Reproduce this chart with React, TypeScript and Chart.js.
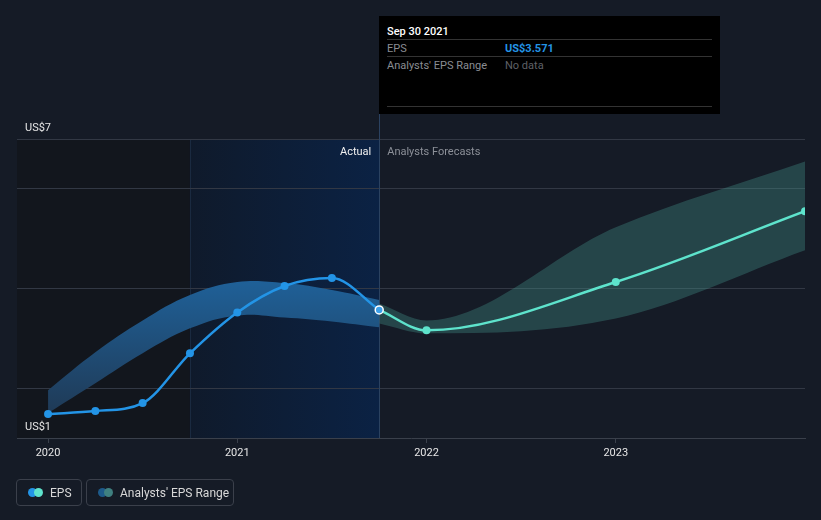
import React, { useEffect, useRef } from "react";
import { Chart, registerables } from "chart.js";
Chart.register(...registerables);

// ---- data ----
const xTickYears = [2020, 2021, 2022, 2023];
const yGridValues = [2, 4, 6, 7];
const yLabelValues = [1, 7];
const xMinValue = 2019.836;
const xMaxValue = 2024;
const yMinValue = 1;
const yMaxValue = 7;
const pastBoundary = 2020.75;
const nowDate = 2021.75;

const actualDates = [2020.0, 2020.25, 2020.5, 2020.75, 2021.0, 2021.25, 2021.5, 2021.75];
const actualEps = [1.48, 1.54, 1.7, 2.7, 3.52, 4.05, 4.21, 3.571];
const rangeActualUpper = [1.96, 2.72, 3.36, 3.87, 4.13, 4.11, 3.97, 3.77];
const rangeActualLower = [1.5, 2.1, 2.7, 3.2, 3.46, 3.42, 3.34, 3.22];

const forecastDates = [2021.75, 2022.0, 2023.0, 2024.0];
const forecastEps = [3.571, 3.16, 4.13, 5.55];
const rangeForecastUpper = [3.7, 3.36, 5.23, 6.55];
const rangeForecastLower = [3.3, 3.1, 3.4, 4.77];

const FONT = "Roboto, 'Noto Sans', sans-serif";
const BLUE = "#2394e6";
const TEAL = "#5ee3cc";

const pts = (xs: number[], ys: number[]) => xs.map((x, i) => ({ x, y: ys[i] }));

const decorPlugin = {
  id: "decor",
  beforeDraw(chart: any) {
    const { ctx, chartArea: a, scales } = chart;
    const x = scales.x;
    const xp = x.getPixelForValue(pastBoundary);
    const xn = x.getPixelForValue(nowDate);
    ctx.save();
    ctx.fillStyle = "#12161d";
    ctx.fillRect(a.left, a.top, xp - a.left, a.bottom - a.top);
    const g = ctx.createLinearGradient(xp, 0, xn, 0);
    g.addColorStop(0, "#0f1a2b");
    g.addColorStop(1, "#0b2244");
    ctx.fillStyle = g;
    ctx.fillRect(xp, a.top, xn - xp, a.bottom - a.top);
    ctx.fillStyle = "rgba(70,100,140,0.22)";
    ctx.fillRect(Math.round(xp), a.top, 1, a.bottom - a.top);
    ctx.restore();
  },
  beforeDatasetsDraw(chart: any) {
    const { ctx, chartArea: a, scales } = chart;
    const xn = Math.round(scales.x.getPixelForValue(nowDate)) + 0.5;
    ctx.save();
    ctx.strokeStyle = "#2b4260";
    ctx.lineWidth = 1;
    ctx.beginPath();
    ctx.moveTo(xn, 114);
    ctx.lineTo(xn, a.bottom);
    ctx.stroke();
    ctx.restore();
  },
  afterDraw(chart: any) {
    const { ctx, chartArea: a, scales } = chart;
    const y = scales.y;
    const xn = scales.x.getPixelForValue(nowDate);
    ctx.save();
    ctx.font = `11px ${FONT}`;
    ctx.textBaseline = "middle";
    ctx.fillStyle = "#e6e6e6";
    ctx.textAlign = "left";
    yLabelValues.forEach((v) => {
      ctx.fillText("US$" + v, a.left + 8, y.getPixelForValue(v) - 11);
    });
    ctx.textAlign = "right";
    ctx.fillStyle = "#f0f0f0";
    ctx.fillText("Actual", xn - 8, a.top + 13);
    ctx.textAlign = "left";
    ctx.fillStyle = "#8c9098";
    ctx.fillText("Analysts Forecasts", xn + 8, a.top + 13);
    ctx.restore();
  },
};

const bandActualFill = (c: any) => {
  const chart = c.chart;
  const a = chart.chartArea;
  if (!a) return "rgba(36,120,195,0.6)";
  const y = chart.scales.y;
  const g = chart.ctx.createLinearGradient(0, y.getPixelForValue(4.2), 0, y.getPixelForValue(1.5));
  g.addColorStop(0, "#1f6199");
  g.addColorStop(1, "#1f3a56");
  return g;
};

export default function App() {
  const ref = useRef<HTMLCanvasElement | null>(null);

  useEffect(() => {
    document.body.style.margin = "0";
    document.body.style.background = "#151b26";
    const canvas = ref.current;
    if (!canvas) return;
    const chart = new Chart(canvas, {
      type: "line",
      data: {
        datasets: [
          {
            label: "EPS",
            data: pts(actualDates, actualEps),
            borderColor: BLUE,
            borderWidth: 2.5,
            pointRadius: 4,
            pointBorderWidth: actualDates.map((_, i) => (i === actualDates.length - 1 ? 1.5 : 0)),
            pointBackgroundColor: actualDates.map((_, i) => (i === actualDates.length - 1 ? "#3d9fe8" : BLUE)),
            pointBorderColor: actualDates.map((_, i) => (i === actualDates.length - 1 ? "#ffffff" : BLUE)),
            cubicInterpolationMode: "monotone",
            fill: false,
            order: 0,
          },
          {
            label: "EPS forecast",
            data: pts(forecastDates, forecastEps),
            borderColor: TEAL,
            borderWidth: 2.5,
            pointRadius: forecastDates.map((_, i) => (i === 0 ? 0 : 4)),
            pointBackgroundColor: TEAL,
            pointBorderWidth: 0,
            cubicInterpolationMode: "monotone",
            fill: false,
            order: 1,
          },
          {
            label: "Range upper",
            data: pts(actualDates, rangeActualUpper),
            borderWidth: 0,
            borderColor: "transparent",
            pointRadius: 0,
            tension: 0.4,
            fill: false,
            order: 2,
          },
          {
            label: "Range lower",
            data: pts(actualDates, rangeActualLower),
            borderWidth: 0,
            borderColor: "transparent",
            backgroundColor: bandActualFill,
            pointRadius: 0,
            tension: 0.4,
            fill: "-1",
            order: 2,
          },
          {
            label: "Forecast upper",
            data: pts(forecastDates, rangeForecastUpper),
            borderWidth: 0,
            borderColor: "transparent",
            pointRadius: 0,
            cubicInterpolationMode: "monotone",
            fill: false,
            order: 3,
          },
          {
            label: "Forecast lower",
            data: pts(forecastDates, rangeForecastLower),
            borderWidth: 0,
            borderColor: "transparent",
            backgroundColor: "rgba(70,150,140,0.35)",
            pointRadius: 0,
            cubicInterpolationMode: "monotone",
            fill: "-1",
            order: 3,
          },
        ],
      },
      options: {
        animation: false,
        responsive: false,
        maintainAspectRatio: false,
        events: [],
        layout: { padding: { left: 17, right: 16, top: 139, bottom: 42 } },
        plugins: { legend: { display: false }, tooltip: { enabled: false } },
        scales: {
          x: {
            type: "linear",
            min: xMinValue,
            max: xMaxValue,
            afterBuildTicks: (s: any) => {
              s.ticks = xTickYears.map((v) => ({ value: v }));
            },
            afterFit: (s: any) => {
              s.height = 40;
            },
            grid: { drawOnChartArea: false, drawTicks: true, tickLength: 5, color: "#3a404b" },
            border: { display: true, color: "#3a404b", width: 1 },
            ticks: {
              color: "#e6e6e6",
              font: { family: FONT, size: 11 },
              padding: 4,
              maxRotation: 0,
              autoSkip: false,
              callback: (v: any) => String(v),
            },
          },
          y: {
            type: "linear",
            min: yMinValue,
            max: yMaxValue,
            afterBuildTicks: (s: any) => {
              s.ticks = yGridValues.map((v) => ({ value: v }));
            },
            afterFit: (s: any) => {
              s.width = 0;
            },
            grid: { color: "#323844", drawTicks: false, lineWidth: 1 },
            border: { display: false },
            ticks: { display: false },
          },
        },
      },
      plugins: [decorPlugin],
    } as any);
    return () => chart.destroy();
  }, []);

  const legendBox: React.CSSProperties = {
    position: "absolute",
    top: 479,
    height: 27,
    border: "1px solid #3b404b",
    borderRadius: 4,
    boxSizing: "border-box",
    display: "flex",
    alignItems: "center",
    fontFamily: FONT,
    fontSize: 12,
    color: "#d8d8d8",
  };
  const dot = (c: string, left: number): React.CSSProperties => ({
    position: "absolute",
    left,
    top: 8,
    width: 9,
    height: 9,
    borderRadius: "50%",
    background: c,
  });
  const row: React.CSSProperties = {
    position: "absolute",
    left: 8,
    right: 8,
    fontFamily: FONT,
    fontSize: 11,
    height: 17,
    lineHeight: "17px",
    borderTop: "1px solid #333",
  };

  return (
    <div style={{ position: "relative", width: 821, height: 520, background: "#151b26", overflow: "hidden" }}>
      <canvas ref={ref} width={821} height={520} style={{ position: "absolute", left: 0, top: 0, width: 821, height: 520 }} />
      <div style={{ position: "absolute", left: 379, top: 16, width: 341, height: 98, background: "#000" }}>
        <div style={{ position: "absolute", left: 8, top: 9, fontFamily: FONT, fontSize: 11, fontWeight: 500, color: "#fff", lineHeight: "14px" }}>
          Sep 30 2021
        </div>
        <div style={{ ...row, top: 23 }}>
          <span style={{ color: "#8a8d93" }}>EPS</span>
          <span style={{ position: "absolute", left: 118, color: BLUE, fontWeight: 700 }}>US$3.571</span>
        </div>
        <div style={{ ...row, top: 40 }}>
          <span style={{ color: "#8a8d93" }}>Analysts' EPS Range</span>
          <span style={{ position: "absolute", left: 118, color: "#5f6167" }}>No data</span>
        </div>
        <div style={{ position: "absolute", left: 8, right: 8, top: 90, borderTop: "1px solid #333" }} />
      </div>
      <div style={{ ...legendBox, left: 16, width: 66 }}>
        <span style={dot(BLUE, 11)} />
        <span style={dot(TEAL, 17)} />
        <span style={{ position: "absolute", left: 33 }}>EPS</span>
      </div>
      <div style={{ ...legendBox, left: 86, width: 148 }}>
        <span style={dot("#1d5a8a", 11)} />
        <span style={dot("#3f8080", 17)} />
        <span style={{ position: "absolute", left: 33 }}>Analysts' EPS Range</span>
      </div>
    </div>
  );
}
